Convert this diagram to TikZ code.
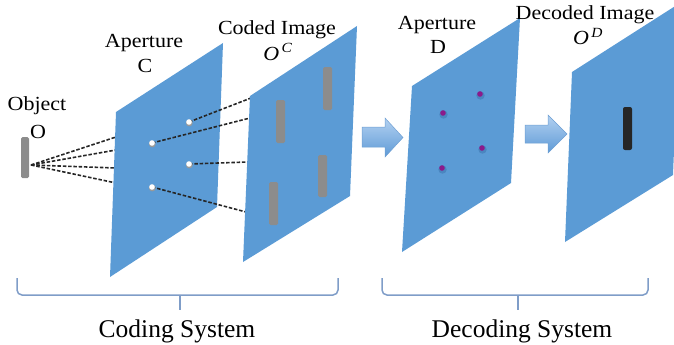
\documentclass[tikz,border=0pt]{standalone}
\usepackage{fontspec}
\usetikzlibrary{calc}
\setmainfont{Liberation Serif}
\newfontfamily\lblfont[FakeStretch=1.1]{Liberation Serif}
\definecolor{planeblue}{HTML}{5B9BD5}
\definecolor{bargray}{HTML}{8C8C8C}
\definecolor{bracecol}{HTML}{7F9DC8}
\definecolor{arrtop}{HTML}{B3D1F1}
\definecolor{arrbot}{HTML}{5E9AD6}
\definecolor{arredge}{HTML}{6E9FD3}
\definecolor{dotpurple}{HTML}{8B1A8B}
\definecolor{dotshadow}{HTML}{4A86C0}
\tikzset{
  planefill/.style={fill=planeblue},
  barfill/.style={fill=bargray, rounded corners=1.5pt},
  dashline/.style={draw=black!85, line width=1.6pt, dash pattern=on 3.5pt off 1.8pt},
  toplabel/.style={font=\lblfont\fontsize{20}{22}\selectfont, anchor=base, inner sep=0pt},
  botlabel/.style={font=\fontsize{25.5}{28}\selectfont, anchor=base, inner sep=0pt},
  bracestyle/.style={draw=bracecol, line width=1.5pt, rounded corners=5pt},
  blockarrow/.style={top color=arrtop, bottom color=arrbot, draw=arredge, line width=0.5pt}
}
\begin{document}
\begin{tikzpicture}[x=1pt,y=-1pt]
\useasboundingbox (0,0) rectangle (674,345);
\clip (0,0) rectangle (674,345);

% ---- object
\fill[barfill] (21,137) rectangle (29,178);
\coordinate (obj) at (31,165);
\foreach \yy/\nm in {137/a,150/b,168/c,183/d}{
  \coordinate (e\nm) at (116,\yy);
  \draw[dashline] (obj) -- (e\nm);
}

% ---- plane 1: aperture C
\fill[planefill] (116,112) -- (223,43) -- (217,207) -- (110,277) -- cycle;
\coordinate (d1) at (189,122);
\coordinate (d2) at (152,143);
\coordinate (d3) at (189,164);
\coordinate (d4) at (152,187);
\coordinate (f1) at (251,98);
\coordinate (f2) at (250,118);
\coordinate (f3) at (248,162);
\coordinate (f4) at (246,212);
\foreach \i in {1,2,3,4}{
  \draw[dashline] (d\i) -- (f\i);
}
\foreach \i in {1,2,3,4}{
  \fill[black!40] ($(d\i)+(0.3,1)$) circle (3.4pt);
  \fill[white] (d\i) circle (2.8pt);
}

% ---- plane 2: coded image
\fill[planefill] (250,96) -- (357,26) -- (350,196) -- (243,262) -- cycle;
\fill[barfill] (276,100) rectangle (285,143);
\fill[barfill] (323,67) rectangle (332,110);
\fill[barfill] (269,182) rectangle (278,225);
\fill[barfill] (318,155) rectangle (327,197);

% ---- arrow 1
\shade[blockarrow] (362,127) -- (385,127) -- (385,118) -- (403,137.5) -- (385,157) -- (385,147) -- (362,147) -- cycle;

% ---- plane 3: aperture D
\fill[planefill] (412,86) -- (520,18) -- (511,183) -- (402,252) -- cycle;
\foreach \px/\py in {443/113, 480/94, 482/148, 442/168}{
  \fill[dotshadow] (\px+0.5,\py+1.5) circle (4.2pt);
  \fill[dotpurple] (\px,\py) circle (2.8pt);
}

% ---- arrow 2
\shade[blockarrow] (525,125) -- (548,125) -- (548,115) -- (567,134) -- (548,153) -- (548,143) -- (525,143) -- cycle;

% ---- plane 4: decoded image
\fill[planefill] (572,72) -- (680,3) -- (673,175) -- (565,242) -- cycle;
\fill[black!85, rounded corners=2pt] (623,107) rectangle (632,150);

% ---- labels
\node[toplabel] (lobj) at (37,110) {Object};
\node[toplabel] (lo) at (38,138) {O};
\node[toplabel] (lapc) at (144,48) {Aperture};
\node[toplabel] (lc) at (145,72) {C};
\node[toplabel] (lcoded) at (277,35) {Coded Image};
\node[toplabel] (loc) at (278,60) {\textit{O}\textsuperscript{\,\textit{C}}};
\node[toplabel] (lapd) at (437,30) {Aperture};
\node[toplabel] (ld) at (438,53) {D};
\node[toplabel] (ldec) at (585,20) {Decoded Image};
\node[toplabel] (lod) at (588,45) {\textit{O}\textsuperscript{\,\textit{D}}};

% ---- braces
\draw[bracestyle] (17,278) -- (17,295) -- (338,295) -- (338,278);
\draw[draw=bracecol, line width=1.5pt] (180,295) -- (180,310);
\draw[bracestyle] (382,278) -- (382,295) -- (648,295) -- (648,278);
\draw[draw=bracecol, line width=1.5pt] (518,295) -- (518,310);

\node[botlabel] (lcs) at (177,337) {Coding System};
\node[botlabel] (lds) at (522,337) {Decoding System};
\end{tikzpicture}
\end{document}
